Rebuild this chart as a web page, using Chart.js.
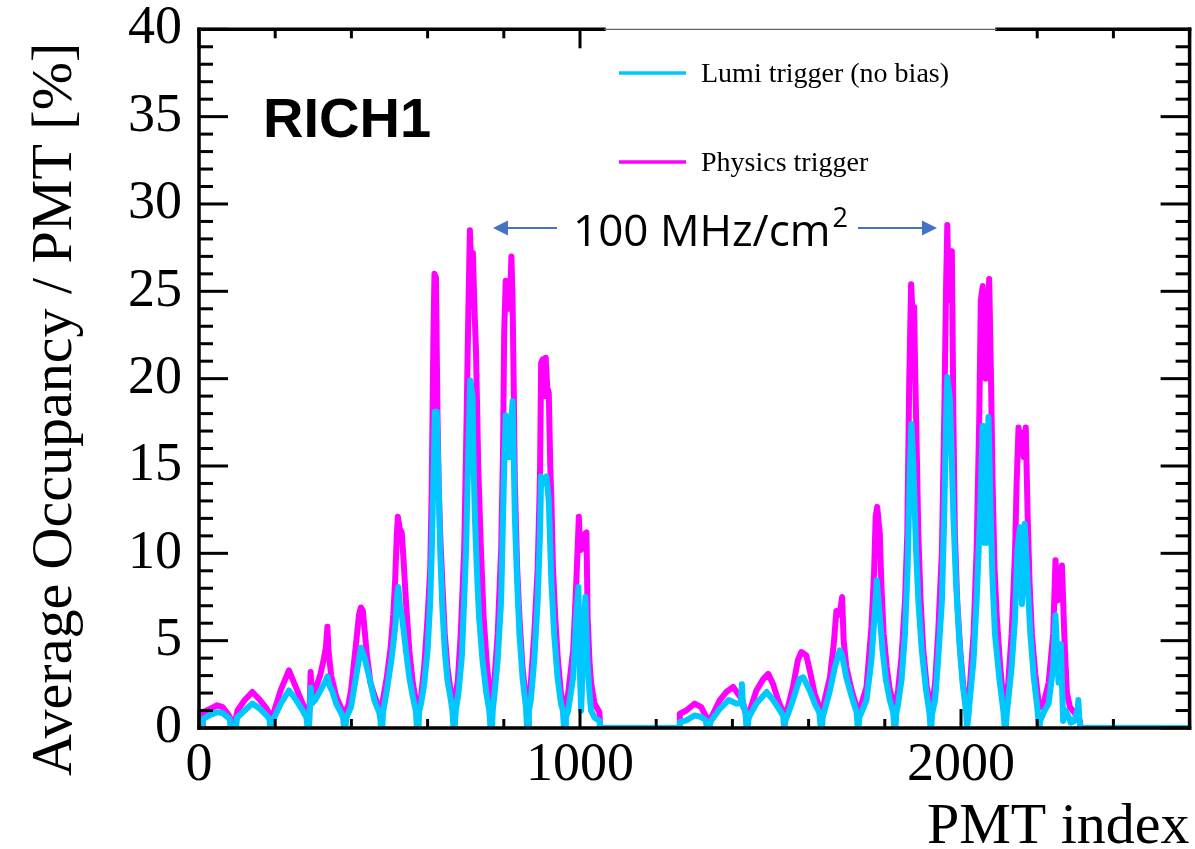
<!DOCTYPE html>
<html>
<head>
<meta charset="utf-8">
<title>RICH1 occupancy</title>
<script src="https://cdn.jsdelivr.net/npm/chart.js@4.4.0/dist/chart.umd.min.js"></script>
<style>
    html, body { margin: 0; padding: 0; background: #fff; }
    #caixa { width: 1195px; height: 849px; position: relative; }
</style>
</head>
<body>
<div id="caixa"><canvas id="grafico"></canvas></div>
<script>
const ticksX = [0, 1000, 2000];
const ticksY = [0, 5, 10, 15, 20, 25, 30, 35, 40];
const legendas = ['Lumi trigger (no bias)', 'Physics trigger'];
const cores = ['#00c8ff', '#ff00ff'];

// ocupação média por PMT: pares [índice do PMT, %]
const lumiTrigger = [
    [0, 0], [8, 0], [9, 0.5], [30, 0.75], [48, 0.9], [62, 0.85], [76, 0.6], [81, 0.5], [83, 0], [97, 0],
    [100, 0.6], [120, 1.0], [140, 1.4], [160, 1.1], [178, 0.7], [185, 0.5], [187, 0], [191, 0],
    [194, 0.45], [215, 1.4], [236, 2.15], [255, 1.6], [272, 1.0], [282, 0.6], [285, 0], [288, 0],
    [290, 0.5], [293, 2.3], [296, 1.4], [305, 1.6], [320, 2.2], [330, 2.6], [337, 2.95], [343, 2.4], [350, 2.1], [360, 1.4], [372, 0.9], [378, 0.6], [381, 0], [384, 0],
    [387, 0.6], [399, 1.2], [412, 2.9], [425, 4.6], [430, 4.3], [434, 4.06], [447, 2.9], [460, 1.6], [473, 0.9], [476, 0.5], [478, 0], [481, 0],
    [483, 0.9], [493, 2.15], [505, 3.9], [511, 5.0], [516, 6.0], [520, 7.5], [523, 8.07], [528, 6.9], [533, 6.35], [543, 4.45], [552, 2.9], [561, 1.8], [569, 1.0], [572, 0], [576, 0],
    [578, 1.0], [583, 1.4], [591, 2.5], [600, 4.45], [607, 7.3], [611, 10.2], [615, 14.0], [619, 18.1], [624, 18.1], [628, 15.0], [633, 10.2], [639, 6.75], [645, 4.45], [652, 2.75], [661, 1.6], [665, 1.0], [668, 0], [671, 0],
    [674, 1.0], [681, 2.0], [690, 4.1], [696, 7.3], [701, 10.2], [707, 15.9], [712, 19.9], [718, 19.0], [720, 15.9], [724, 12.1], [729, 9.2], [735, 6.35], [744, 3.9], [754, 2.0], [762, 1.0], [765, 0], [769, 0],
    [771, 1.0], [775, 1.8], [784, 3.9], [793, 7.3], [800, 14.0], [805, 17.9], [810, 16.0], [814, 15.5], [818, 17.0], [823, 18.7], [829, 12.1], [835, 8.3], [841, 5.4], [849, 2.9], [858, 1.2], [861, 0], [864, 0],
    [866, 1.0], [871, 1.6], [880, 3.9], [889, 7.3], [895, 11.1], [898, 14.4], [905, 14.0], [912, 14.4], [918, 13.0], [925, 8.3], [932, 5.4], [941, 2.9], [950, 1.4], [955, 1.0], [958, 0], [961, 0],
    [963, 0.6], [969, 1.0], [982, 2.9], [990, 6.35], [996, 8.07], [1000, 3.0], [1003, 1.0], [1008, 4.0], [1014, 7.5], [1019, 4.0], [1025, 2.0], [1029, 1.0], [1038, 0.6], [1051, 0.4], [1053, 0],
    [1261, 0], [1262, 0.34], [1279, 0.44], [1301, 0.72], [1318, 0.63], [1330, 0.44], [1333, 0], [1340, 0],
    [1342, 0.3], [1345, 0.44], [1367, 1.1], [1390, 1.6], [1410, 1.4], [1422, 1.4], [1425, 2.5], [1428, 1.2], [1434, 1.0], [1437, 0], [1440, 0],
    [1442, 0.5], [1446, 0.72], [1463, 1.4], [1490, 2.06], [1507, 1.6], [1525, 1.0], [1533, 0.7], [1536, 0], [1538, 0],
    [1540, 0.5], [1546, 0.8], [1559, 1.6], [1576, 2.8], [1586, 2.9], [1603, 2.15], [1616, 1.4], [1628, 0.9], [1632, 0], [1635, 0],
    [1637, 0.6], [1642, 1.0], [1656, 2.15], [1669, 3.5], [1682, 4.45], [1688, 4.15], [1699, 2.9], [1713, 1.8], [1726, 0.9], [1729, 0], [1731, 0],
    [1733, 0.6], [1739, 0.9], [1752, 1.6], [1765, 3.9], [1774, 6.7], [1779, 8.46], [1787, 6.35], [1794, 4.45], [1803, 2.75], [1813, 1.6], [1822, 0.9], [1825, 0], [1828, 0],
    [1830, 0.8], [1835, 1.4], [1844, 2.75], [1853, 5.4], [1860, 9.2], [1866, 15.0], [1870, 17.4], [1875, 15.0], [1882, 10.2], [1888, 7.3], [1897, 4.45], [1908, 2.2], [1917, 0.9], [1920, 0], [1922, 0],
    [1924, 0.8], [1932, 1.6], [1940, 3.9], [1950, 7.3], [1956, 12.1], [1961, 17.8], [1964, 20.1], [1971, 18.8], [1975, 15.9], [1980, 12.1], [1987, 8.3], [1996, 4.8], [2004, 2.6], [2013, 1.0], [2016, 0], [2018, 0],
    [2020, 0.8], [2024, 1.8], [2033, 3.9], [2041, 7.3], [2050, 12.1], [2057, 17.3], [2061, 10.6], [2066, 10.6], [2072, 17.8], [2078, 12.1], [2083, 8.3], [2089, 5.4], [2101, 2.75], [2111, 1.0], [2115, 0], [2118, 0],
    [2120, 0.8], [2124, 1.6], [2133, 3.5], [2142, 6.35], [2148, 10.2], [2155, 11.5], [2160, 7.1], [2167, 11.7], [2175, 8.3], [2182, 5.4], [2191, 2.9], [2200, 1.2], [2205, 0], [2208, 0.4],
    [2217, 0.9], [2230, 1.4], [2242, 3.5], [2248, 6.45], [2256, 2.6], [2262, 4.8], [2268, 0.4], [2274, 1.0], [2283, 0.6], [2288, 0.3], [2297, 0.4], [2306, 1.0], [2308, 1.6], [2311, 0.4], [2313, 0],
    [2600, 0]
];

const physicsTrigger = [
    [0, 0], [8, 0], [10, 0.9], [30, 1.1], [48, 1.3], [62, 1.2], [76, 0.8], [86, 0.4],
    [96, 0.5], [101, 1.0], [120, 1.6], [140, 2.06], [160, 1.6], [178, 1.1], [187, 0.7],
    [192, 0.6], [197, 0.95], [215, 2.2], [236, 3.3], [255, 2.3], [272, 1.4], [284, 0.9],
    [290, 1.0], [293, 3.2], [296, 1.8], [305, 2.2], [318, 3.0], [328, 4.0], [333, 4.6], [337, 5.8], [340, 4.4], [347, 3.0], [360, 1.8], [372, 1.2], [380, 0.9],
    [386, 1.0], [392, 1.3], [399, 2.15], [412, 4.8], [420, 6.5], [425, 6.9], [430, 6.7], [434, 5.8], [440, 4.3], [450, 2.6], [460, 1.9], [468, 1.4], [476, 1.2],
    [481, 1.4], [493, 2.9], [503, 4.6], [510, 6.5], [515, 8.5], [519, 11.0], [522, 12.1], [527, 11.4], [532, 11.2], [537, 9.6], [543, 7.3], [552, 4.45], [561, 2.6], [569, 1.6], [574, 1.4],
    [583, 1.8], [591, 3.5], [600, 6.35], [607, 9.2], [611, 14.0], [615, 22.0], [618, 26.0], [622, 25.8], [626, 17.8], [629, 14.0], [633, 11.1], [639, 8.2], [645, 5.4], [652, 3.5], [661, 2.0], [668, 1.4],
    [679, 2.6], [687, 5.4], [696, 10.2], [701, 15.9], [707, 23.9], [711, 28.5], [715, 26.0], [719, 27.2], [723, 24.0], [727, 21.6], [733, 14.9], [740, 10.2], [747, 6.35], [756, 3.5], [765, 1.6],
    [775, 2.6], [784, 5.4], [793, 10.2], [798, 15.9], [801, 22.6], [805, 25.6], [809, 24.3], [813, 24.0], [817, 25.0], [820, 27.0], [823, 24.5], [826, 19.7], [829, 14.0], [835, 9.2], [841, 6.35], [849, 3.5], [858, 1.6],
    [866, 1.4], [871, 2.6], [880, 5.4], [889, 9.2], [895, 14.4], [898, 20.9], [902, 21.1], [906, 19.0], [910, 21.2], [914, 19.5], [918, 19.2], [922, 15.0], [925, 13.0], [929, 9.2], [935, 6.35], [942, 3.9], [950, 2.0], [957, 1.2],
    [963, 1.3], [969, 2.0], [982, 4.45], [990, 8.2], [997, 12.1], [1000, 10.5], [1003, 10.2], [1008, 10.8], [1012, 11.1], [1017, 11.2], [1020, 6.35], [1025, 3.8], [1029, 2.6], [1038, 1.4], [1051, 0.9], [1053, 0],
    [1261, 0], [1262, 0.82], [1279, 1.0], [1301, 1.4], [1318, 1.2], [1330, 0.7], [1336, 0.4],
    [1342, 0.5], [1345, 0.63], [1367, 1.6], [1384, 2.06], [1402, 2.35], [1415, 1.95], [1426, 1.6], [1435, 0.82],
    [1442, 0.8], [1446, 1.0], [1463, 2.15], [1481, 2.8], [1494, 3.1], [1507, 2.5], [1520, 1.6], [1533, 0.9],
    [1540, 0.9], [1546, 1.2], [1559, 2.35], [1572, 3.9], [1581, 4.35], [1594, 4.15], [1603, 3.3], [1616, 1.95], [1630, 1.1],
    [1637, 1.0], [1642, 1.6], [1656, 2.9], [1666, 4.8], [1673, 6.7], [1682, 6.5], [1688, 7.5], [1692, 5.0], [1699, 3.5], [1713, 2.15], [1726, 1.2],
    [1733, 1.1], [1739, 1.4], [1752, 2.35], [1765, 5.8], [1772, 9.0], [1776, 12.1], [1780, 12.66], [1787, 11.1], [1791, 8.2], [1797, 5.4], [1805, 3.5], [1813, 2.2], [1822, 1.4],
    [1829, 1.3], [1835, 2.2], [1844, 4.1], [1853, 7.3], [1859, 11.1], [1864, 19.7], [1869, 25.4], [1872, 24.1], [1877, 24.1], [1880, 20.0], [1883, 16.9], [1888, 11.1], [1894, 7.3], [1901, 4.45], [1910, 2.4], [1919, 1.4],
    [1925, 1.3], [1932, 2.6], [1940, 5.4], [1950, 10.2], [1956, 17.8], [1961, 25.5], [1964, 28.8], [1968, 24.5], [1972, 27.3], [1976, 27.3], [1980, 17.8], [1984, 11.1], [1990, 7.3], [1998, 4.45], [2006, 2.4], [2013, 1.4],
    [2019, 1.3], [2024, 2.6], [2033, 5.4], [2041, 10.2], [2048, 17.8], [2052, 24.5], [2057, 25.3], [2061, 21.0], [2065, 20.0], [2070, 23.0], [2074, 25.7], [2079, 19.7], [2083, 14.0], [2088, 9.2], [2094, 6.35], [2103, 3.5], [2111, 1.6],
    [2118, 1.4], [2124, 2.6], [2133, 5.4], [2142, 10.2], [2146, 14.0], [2151, 17.2], [2156, 16.0], [2160, 16.9], [2165, 15.5], [2170, 17.2], [2175, 12.1], [2180, 8.3], [2186, 5.4], [2195, 3.1], [2203, 1.6],
    [2210, 1.2], [2217, 1.4], [2230, 2.6], [2242, 5.4], [2248, 9.6], [2254, 7.3], [2260, 8.0], [2265, 9.3], [2271, 5.4], [2278, 2.0], [2286, 1.2], [2297, 0.9], [2308, 0.6], [2312, 0.4], [2314, 0],
    [2600, 0]
];

const serifa = "'Liberation Serif', 'Times New Roman', serif";

function linha(ctx, x1, y1, x2, y2) {
    ctx.beginPath();
    ctx.moveTo(x1, y1);
    ctx.lineTo(x2, y2);
    ctx.stroke();
}

function seta(ctx, xIni, xPonta, y) {
    const dir = Math.sign(xPonta - xIni);
    const base = xPonta - dir * 15;
    ctx.strokeStyle = '#4472c4';
    ctx.fillStyle = '#4472c4';
    ctx.lineWidth = 2;
    linha(ctx, xIni, y, base, y);
    ctx.beginPath();
    ctx.moveTo(xPonta, y);
    ctx.lineTo(base, y - 7.5);
    ctx.lineTo(base, y + 7.5);
    ctx.closePath();
    ctx.fill();
}

// moldura estilo ROOT: ticks para dentro, eixos espelhados, textos e legenda
const moldura = {
    id: 'moldura',
    afterDatasetsDraw(chart) {
        const { ctx, chartArea: a, scales: { x, y } } = chart;
        const caixaLegenda = [604, 997];
        ctx.save();
        ctx.strokeStyle = '#000';
        ctx.lineWidth = 3;
        ctx.lineCap = 'butt';

        for (let v = 0; v <= x.max; v += 200) {
            const px = x.getPixelForValue(v);
            const tam = v % 1000 === 0 ? 19 : 9;
            linha(ctx, px, a.bottom, px, a.bottom - tam);
            if (px < caixaLegenda[0] || px > caixaLegenda[1]) {
                linha(ctx, px, a.top, px, a.top + tam);
            }
        }
        for (let v = 0; v <= y.max; v += 1) {
            const py = y.getPixelForValue(v);
            const tam = v % 5 === 0 ? 29 : 14;
            linha(ctx, a.left, py, a.left + tam, py);
            linha(ctx, a.right, py, a.right - tam, py);
        }

        ctx.lineWidth = 3.5;
        ctx.lineCap = 'square';
        linha(ctx, a.left, a.bottom, a.right, a.bottom);
        linha(ctx, a.left, a.top, a.left, a.bottom);
        linha(ctx, a.right, a.top, a.right, a.bottom);
        linha(ctx, a.left, a.top, caixaLegenda[0], a.top);
        linha(ctx, caixaLegenda[1], a.top, a.right, a.top);
        ctx.lineCap = 'butt';
        ctx.lineWidth = 1.2;
        ctx.strokeStyle = '#666';
        linha(ctx, caixaLegenda[0], a.top, caixaLegenda[1], a.top);

        // legenda
        ctx.lineWidth = 3.5;
        ctx.fillStyle = '#000';
        ctx.font = '28px ' + serifa;
        ctx.textAlign = 'left';
        ctx.textBaseline = 'alphabetic';
        const linhasLeg = [73, 162];
        legendas.forEach((txt, i) => {
            ctx.strokeStyle = cores[i];
            linha(ctx, 619, linhasLeg[i], 686, linhasLeg[i]);
            ctx.fillText(txt, 701, linhasLeg[i] + 9);
        });

        ctx.font = 'bold 56px "Liberation Sans", Arial, sans-serif';
        ctx.fillText('RICH1', 263, 137);

        // anotação 100 MHz/cm2
        ctx.font = '44px "Open Sans", "Noto Sans", sans-serif';
        ctx.fillText('100 MHz/cm', 573, 246);
        const larg = ctx.measureText('100 MHz/cm').width;
        ctx.font = '27px "Open Sans", "Noto Sans", sans-serif';
        ctx.fillText('2', 573 + larg + 2, 227);
        seta(ctx, 557, 493, 228);
        seta(ctx, 858, 937, 228);

        // títulos dos eixos
        ctx.fillStyle = '#000';
        ctx.font = '58px ' + serifa;
        ctx.textAlign = 'right';
        ctx.fillText('PMT index', a.right, 843);

        ctx.translate(71, 776);
        ctx.rotate(-Math.PI / 2);
        ctx.textAlign = 'left';
        ctx.fillText('Average Occupancy / PMT [%]', 0, 0);
        ctx.restore();
    }
};

const grafico = document.getElementById('grafico');

new Chart(grafico, {
    type: 'line',
    data: {
        datasets: [{
            label: legendas[0],
            data: lumiTrigger.map(p => ({ x: p[0], y: p[1] })),
            borderColor: cores[0],
            borderWidth: 6,
            borderJoinStyle: 'round',
            pointRadius: 0,
            tension: 0,
        }, {
            label: legendas[1],
            data: physicsTrigger.map(p => ({ x: p[0], y: p[1] })),
            borderColor: cores[1],
            borderWidth: 6,
            borderJoinStyle: 'round',
            pointRadius: 0,
            tension: 0,
        }],
    }, options: {
        animation: false,
        responsive: true,
        maintainAspectRatio: false,
        devicePixelRatio: 1,
        layout: {
            padding: { top: 29.3, right: 5.4, left: 0, bottom: 0 }
        },
        plugins: {
            legend: { display: false },
            tooltip: { enabled: false }
        },
        scales: {
            x: {
                type: 'linear',
                min: 0,
                max: 2600,
                grid: { display: false, drawTicks: false },
                border: { display: false },
                afterBuildTicks: s => { s.ticks = ticksX.map(v => ({ value: v })); },
                afterFit: s => { s.height = 121; s.paddingLeft = 0; s.paddingRight = 0; },
                ticks: {
                    font: { family: serifa, size: 54 },
                    color: '#000',
                    padding: 5,
                    maxRotation: 0,
                    autoSkip: false,
                    callback: v => String(v)
                }
            },
            y: {
                min: 0,
                max: 40,
                grid: { display: false, drawTicks: false },
                border: { display: false },
                afterBuildTicks: s => { s.ticks = ticksY.map(v => ({ value: v })); },
                afterFit: s => { s.width = 199; s.paddingTop = 0; s.paddingBottom = 0; },
                ticks: {
                    font: { family: serifa, size: 54 },
                    color: '#000',
                    padding: 17
                }
            }
        }
    },
    plugins: [moldura]
});
</script>
</body>
</html>
